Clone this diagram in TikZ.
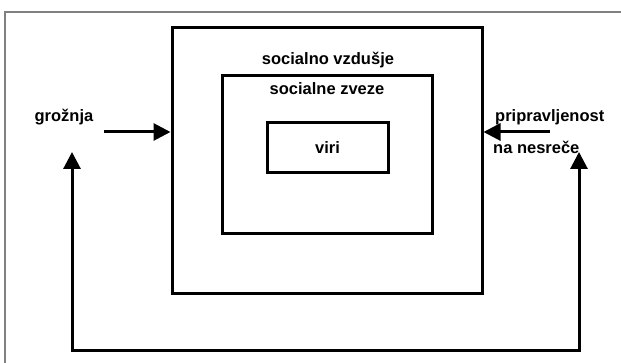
\documentclass[tikz,border=0pt]{standalone}
\usepackage{fontspec}
\setmainfont{Liberation Sans}
\usetikzlibrary{arrows.meta,positioning}

\begin{document}
\begin{tikzpicture}[x=1pt,y=-1pt,
    box/.style={draw,line width=3pt,inner sep=0pt},
    lbl/.style={font=\fontsize{16.5}{18}\selectfont\bfseries,inner sep=0pt},
    arr/.style={line width=3pt,-{Triangle[length=17pt,width=17pt]}}]
	\useasboundingbox (0,0) rectangle (621,363);
	\draw[gray,line width=1.5pt] (5,370) |- (630,12);
            % nested boxes
            \node[box,minimum width=310pt,minimum height=266pt] (vzdusje) at (327,161) {};
            \node[box,minimum width=210pt,minimum height=158pt] (zveze) at (327,155) {};
            \node[box,minimum width=121pt,minimum height=50pt,lbl] (viri) at (327.5,148) {viri};
            \node[lbl] (tvzdusje) at (328,60) {socialno vzdušje};
            \node[lbl] (tzveze) at (327,89) {socialne zveze};

            % inputs
            \node[lbl] (groznja) at (64,117) {grožnja};
            \node[lbl,anchor=west] (priprav) at (495,117) {pripravljenost};
            \node[lbl,anchor=west] (nesrece) at (493,147) {na nesreče};
            \coordinate (gin) at (104,132);
            \coordinate (pin) at (550,132);
            \draw[arr] (gin) -- (gin -| vzdusje.west);
            \draw[arr] (pin) -- (pin -| vzdusje.east);

            % feedback
            \coordinate (fbl) at (72,152);
            \coordinate (fbr) at (579,152);
            \draw[arr,{Triangle[length=17pt,width=17pt]}-{Triangle[length=17pt,width=17pt]}]
              (fbl) -- ++(0,198) -| (fbr);
\end{tikzpicture}
\end{document}
